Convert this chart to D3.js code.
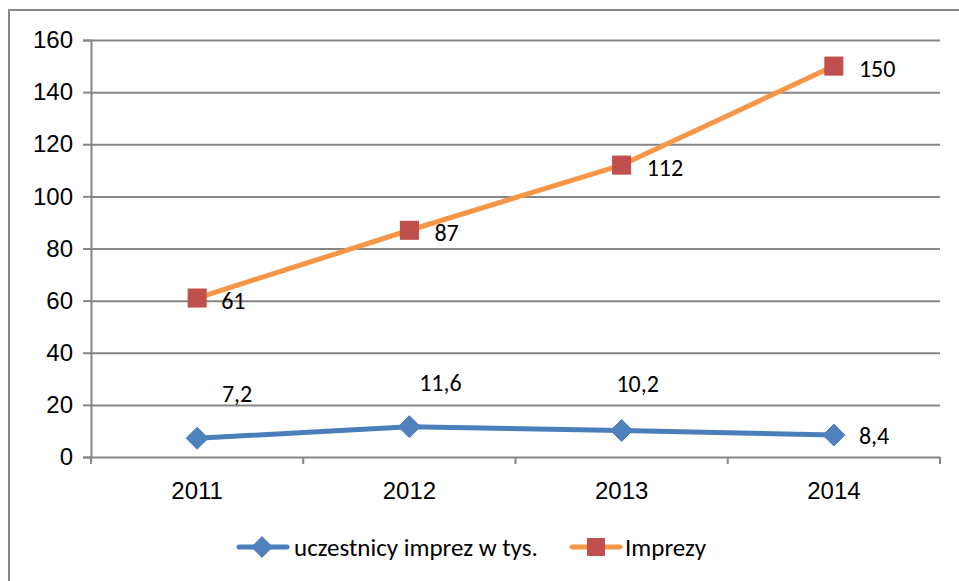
<!DOCTYPE html>
<html lang="pl">
<head>
<meta charset="UTF-8">
<title>Imprezy i uczestnicy</title>
<script src="https://d3js.org/d3.v7.min.js"></script>
<style>
    body { margin: 0; background: #fff; }
    svg { display: block; font-family: Carlito, Calibri, Lato, "Open Sans", sans-serif; }
    .tick text { font-size: 24px; fill: #000; }
</style>
</head>
<body>
<div id="chart"></div>
<script>
    const years = ["2011", "2012", "2013", "2014"];
    const uczestnicy = [7.2, 11.6, 10.2, 8.4];
    const imprezy = [61, 87, 112, 150];
    const yTicks = [0, 20, 40, 60, 80, 100, 120, 140, 160];
    const seriesNames = ["uczestnicy imprez w tys.", "Imprezy"];

    // label placement (dx, dy from point), set by eye
    const blueLabelOffsets = [[40, -45], [31, -44], [16, -47], [25, 0]];
    const orangeLabelOffsets = [[24, 2], [25, 2], [25, 2], [25, 2]];

    const width = 959, height = 581;
    const margin = { left: 91, right: 19, top: 40, bottom: 124 };
    const fontSize = 24;

    const svg = d3.select("#chart").append("svg")
        .attr("width", width).attr("height", height);

    // outer chart border (only left/top visible in frame)
    svg.append("rect")
        .attr("x", 9).attr("y", 10)
        .attr("width", width + 20).attr("height", height + 20)
        .attr("fill", "none").attr("stroke", "#868686").attr("stroke-width", 2);

    const x = d3.scaleBand().domain(years)
        .range([margin.left, width - margin.right]);
    const y = d3.scaleLinear().domain([0, 160])
        .range([height - margin.bottom, margin.top]);

    // grid + y axis
    const yAxis = svg.append("g")
        .attr("transform", `translate(${margin.left},0)`)
        .call(d3.axisLeft(y).tickValues(yTicks).tickSize(8).tickPadding(10));
    yAxis.select(".domain").attr("stroke", "#868686").attr("stroke-width", 2);
    yAxis.selectAll(".tick line").attr("stroke", "#868686").attr("stroke-width", 2);
    yAxis.selectAll(".tick").append("line")
        .attr("x1", 0).attr("x2", width - margin.right - margin.left)
        .attr("stroke", "#868686").attr("stroke-width", 2);

    // x axis
    const xAxis = svg.append("g")
        .attr("transform", `translate(0,${y(0)})`)
        .call(d3.axisBottom(x).tickSize(0).tickPadding(25));
    xAxis.select(".domain").remove();
    const edges = years.map(d => x(d)).concat([x(years[years.length - 1]) + x.bandwidth()]);
    svg.append("g").selectAll("line").data(edges).enter().append("line")
        .attr("x1", d => d).attr("x2", d => d)
        .attr("y1", y(0)).attr("y2", y(0) + 7)
        .attr("stroke", "#868686").attr("stroke-width", 2);

    const cx = d => x(d) + x.bandwidth() / 2;
    const line = d3.line().x((d, i) => cx(years[i])).y(d => y(d));

    // blue series
    svg.append("path").datum(uczestnicy)
        .attr("fill", "none").attr("stroke", "#4A7EBB").attr("stroke-width", 5)
        .attr("stroke-linejoin", "round").attr("d", line);
    // orange series
    svg.append("path").datum(imprezy)
        .attr("fill", "none").attr("stroke", "#F79646").attr("stroke-width", 5)
        .attr("stroke-linejoin", "round").attr("d", line);

    svg.append("g").selectAll("path").data(uczestnicy).enter().append("path")
        .attr("d", "M0,-11L11,0L0,11L-11,0Z")
        .attr("transform", (d, i) => `translate(${cx(years[i])},${y(d)})`)
        .attr("fill", "#4F81BD").attr("stroke", "#4A7EBB").attr("stroke-width", 1);

    svg.append("g").selectAll("rect").data(imprezy).enter().append("rect")
        .attr("x", (d, i) => cx(years[i]) - 9).attr("y", d => y(d) - 9)
        .attr("width", 18).attr("height", 18)
        .attr("fill", "#C0504D").attr("stroke", "#BE4B48").attr("stroke-width", 1);

    const fmt = v => String(v).replace(".", ",");

    svg.append("g").selectAll("text").data(uczestnicy).enter().append("text")
        .attr("x", (d, i) => cx(years[i]) + blueLabelOffsets[i][0])
        .attr("y", (d, i) => y(d) + blueLabelOffsets[i][1])
        .attr("text-anchor", (d, i) => i === 3 ? "start" : "middle")
        .attr("dominant-baseline", "central")
        .attr("font-size", fontSize).text(fmt);

    svg.append("g").selectAll("text").data(imprezy).enter().append("text")
        .attr("x", (d, i) => cx(years[i]) + orangeLabelOffsets[i][0])
        .attr("y", (d, i) => y(d) + orangeLabelOffsets[i][1])
        .attr("dominant-baseline", "central")
        .attr("font-size", fontSize).text(fmt);

    // legend
    const legend = svg.append("g").attr("transform", "translate(0,547)");
    legend.append("line").attr("x1", 239).attr("x2", 287)
        .attr("stroke", "#4A7EBB").attr("stroke-width", 5).attr("stroke-linecap", "round");
    legend.append("path").attr("d", "M0,-11L11,0L0,11L-11,0Z")
        .attr("transform", "translate(262,0)").attr("fill", "#4F81BD");
    legend.append("text").attr("x", 294).attr("dominant-baseline", "central")
        .attr("font-size", 25).text(seriesNames[0]);

    legend.append("line").attr("x1", 572).attr("x2", 620)
        .attr("stroke", "#F79646").attr("stroke-width", 5).attr("stroke-linecap", "round");
    legend.append("rect").attr("x", 587).attr("y", -9).attr("width", 18).attr("height", 18)
        .attr("fill", "#C0504D");
    legend.append("text").attr("x", 625).attr("dominant-baseline", "central")
        .attr("font-size", 25).text(seriesNames[1]);
</script>
</body>
</html>
